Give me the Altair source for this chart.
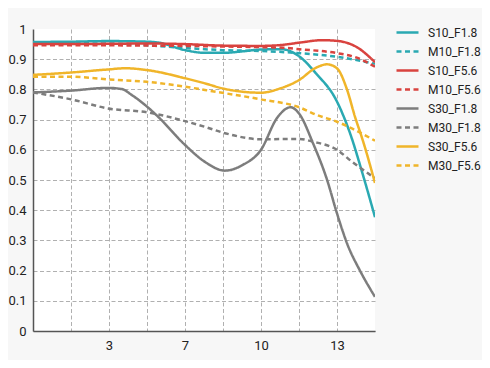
import altair as alt
import pandas as pd

series = ["S10_F1.8", "M10_F1.8", "S10_F5.6", "M10_F5.6",
          "S30_F1.8", "M30_F1.8", "S30_F5.6", "M30_F5.6"]
colors = ["#2aa9b2", "#2aa9b2", "#d9433f", "#d9433f",
          "#7d7d7d", "#7d7d7d", "#f0b52a", "#f0b52a"]
dashes = [[1, 0], [5, 3.5], [1, 0], [5, 3.5], [1, 0], [5, 3.5], [1, 0], [5, 3.5]]

s10_f18_x = [0, 1.67, 3.33, 5, 5.5, 6.67, 7.54, 8.33, 9.2, 10, 10.9, 11.7, 12.4, 13.33, 13.9, 14.47, 15]
s10_f18_y = [0.957, 0.958, 0.96, 0.958, 0.955, 0.93, 0.921, 0.921, 0.926, 0.932, 0.933, 0.908, 0.854, 0.76, 0.656, 0.517, 0.377]

m10_f18_x = [0, 3.33, 5, 6.67, 7.54, 8.33, 10, 11.7, 13.33, 15]
m10_f18_y = [0.953, 0.952, 0.946, 0.937, 0.933, 0.93, 0.927, 0.92, 0.908, 0.885]

s10_f56_x = [0, 1.67, 3.33, 5, 6.67, 8.33, 10, 11, 11.7, 12.7, 13.4, 14.2, 15]
s10_f56_y = [0.95, 0.95, 0.951, 0.952, 0.95, 0.945, 0.944, 0.948, 0.955, 0.963, 0.96, 0.94, 0.89]

m10_f56_x = [0, 3.33, 5, 6.67, 8.33, 10, 11, 11.7, 13.33, 14.2, 15]
m10_f56_y = [0.946, 0.946, 0.945, 0.944, 0.942, 0.94, 0.938, 0.933, 0.92, 0.905, 0.875]

s30_f18_x = [0, 1.67, 3.29, 3.9, 4.34, 5, 5.48, 6.67, 7.54, 8.42, 9.2, 10, 10.7, 11.3, 11.67, 12.28, 12.9, 13.33, 13.8, 14.34, 15]
s30_f18_y = [0.79, 0.796, 0.805, 0.801, 0.781, 0.743, 0.71, 0.616, 0.56, 0.531, 0.55, 0.6, 0.705, 0.741, 0.72, 0.622, 0.5, 0.39, 0.285, 0.2, 0.113]

m30_f18_x = [0, 1.67, 3.29, 5, 6.67, 7.54, 8.42, 10, 11.67, 12.28, 13.33, 14.0, 15]
m30_f18_y = [0.79, 0.767, 0.737, 0.724, 0.695, 0.676, 0.655, 0.635, 0.636, 0.627, 0.6, 0.56, 0.506]

s30_f56_x = [0, 1.67, 3.29, 4.04, 5, 6.67, 7.54, 8.33, 10, 10.83, 11.67, 12.37, 12.9, 13.33, 13.77, 14.12, 14.47, 15]
s30_f56_y = [0.848, 0.856, 0.866, 0.87, 0.864, 0.837, 0.82, 0.803, 0.789, 0.803, 0.831, 0.87, 0.883, 0.87, 0.80, 0.71, 0.63, 0.49]

m30_f56_x = [0, 1.67, 3.29, 5, 6.67, 7.54, 10, 11.67, 12.46, 13.33, 15]
m30_f56_y = [0.842, 0.842, 0.833, 0.825, 0.809, 0.798, 0.767, 0.741, 0.715, 0.693, 0.63]

x_grid = [1.667, 3.333, 5, 6.667, 8.333, 10, 11.667, 13.333]
x_tick_labels = ["", "3", "", "7", "", "10", "", "13"]
y_ticks = [0, 0.1, 0.2, 0.3, 0.4, 0.5, 0.6, 0.7, 0.8, 0.9, 1]
y_tick_labels = ["0", "0.1", "0.2", "0.3", "0.4", "0.5", "0.6", "0.7", "0.8", "0.9", "1"]

all_x = [s10_f18_x, m10_f18_x, s10_f56_x, m10_f56_x, s30_f18_x, m30_f18_x, s30_f56_x, m30_f56_x]
all_y = [s10_f18_y, m10_f18_y, s10_f56_y, m10_f56_y, s30_f18_y, m30_f18_y, s30_f56_y, m30_f56_y]

rows = []
for name, xs, ys in zip(series, all_x, all_y):
    for xv, yv in zip(xs, ys):
        rows.append({"series": name, "x": xv, "y": yv})
df = pd.DataFrame(rows)


def label_expr(values, labels):
    expr = "''"
    for v, l in reversed(list(zip(values, labels))):
        expr = f"datum.value == {v} ? '{l}' : {expr}"
    return expr


FONT = "Roboto"
legend = alt.Legend(
    title=None, orient="none", legendX=362, legendY=-9,
    symbolType="stroke", symbolSize=484, symbolStrokeWidth=2.5,
    labelFont=FONT, labelFontSize=12, labelColor="#222", labelOffset=8,
    rowPadding=0, padding=0,
)

grid_color = "#b0b0b0"
chart = alt.Chart(df).mark_line(strokeWidth=2.5, interpolate="monotone", clip=True).encode(
    x=alt.X("x:Q", scale=alt.Scale(domain=[0, 15], nice=False, zero=False),
            axis=alt.Axis(values=x_grid, labelExpr=label_expr(x_grid, x_tick_labels),
                          title=None, ticks=False, grid=True, gridDash=[4, 2.5],
                          gridColor=grid_color, gridWidth=1, domainColor="#555",
                          domainWidth=1.5, labelPadding=8, labelFont=FONT,
                          labelFontSize=13, labelColor="#222")),
    y=alt.Y("y:Q", scale=alt.Scale(domain=[0, 1], nice=False, zero=False),
            axis=alt.Axis(values=y_ticks, labelExpr=label_expr(y_ticks, y_tick_labels),
                          title=None, ticks=False, grid=True, gridDash=[4, 2.5],
                          gridColor=grid_color, gridWidth=1,
                          gridOpacity={"condition": {"test": "datum.value >= 1", "value": 0}, "value": 1},
                          domainColor="#555", domainWidth=1.5, labelPadding=7,
                          labelFont=FONT, labelFontSize=13, labelColor="#222")),
    color=alt.Color("series:N", scale=alt.Scale(domain=series, range=colors), legend=legend),
    strokeDash=alt.StrokeDash("series:N", scale=alt.Scale(domain=series, range=dashes), legend=legend),
).properties(
    width=342, height=302,
    autosize=alt.AutoSizeParams(type="none"),
    padding={"left": 25, "top": 21, "right": 107, "bottom": 29},
    background="#f7f7f7",
).configure_view(stroke=None, fill="white")

chart.save("out.html", embed_options={"renderer": "svg", "actions": False})
